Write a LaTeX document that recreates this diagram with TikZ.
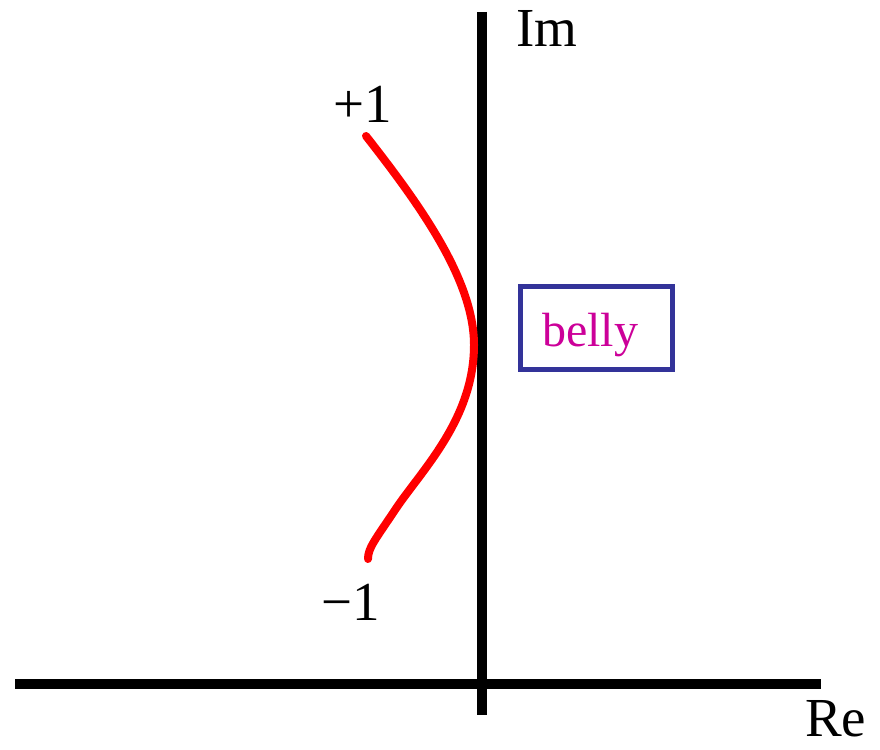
\documentclass[tikz,border=0pt]{standalone}
\usepackage{fontspec}
\setmainfont{Liberation Serif}
\definecolor{boxblue}{RGB}{51,51,153}
\definecolor{bellymag}{RGB}{204,0,153}
\definecolor{curvered}{RGB}{255,0,0}
\begin{document}
\begin{tikzpicture}[x=1pt,y=-1pt,
  axis/.style={line width=10pt,black},
  lbl/.style={inner sep=0pt,anchor=base west,font=\fontsize{55}{60}\selectfont},
  bellybox/.style={draw=boxblue,line width=5pt,minimum width=152pt,minimum height=83pt,inner sep=0pt},
  curve/.style={line width=8pt,curvered,line cap=round}]
\useasboundingbox (0,0) rectangle (880,749);
\fill[white] (0,0) rectangle (880,749);
% axes
\coordinate (vtop) at (482,12);
\coordinate (vbot) at (482,715);
\coordinate (hleft) at (15,684);
\coordinate (hright) at (821,684);
\draw[axis] (vtop) -- (vbot);
\draw[axis] (hleft) -- (hright);
% labels
\node[lbl] (im) at (516,47) {Im};
\node[lbl] (re) at (805,736) {Re};
\node[lbl] (plus) at (333,123) {+1};
\node[lbl] (minus) at (321,620) {−1};
% curve
\coordinate (cstart) at (366,136);
\coordinate (cmid) at (474,345);
\coordinate (cend) at (368,559);
\draw[curve] (cstart) .. controls (420,205) and (474,280) .. (cmid)
  .. controls (474,420) and (420,472) .. (395,510)
  .. controls (375,540) and (368,548) .. (cend);
% belly box
\node[bellybox] (belly) at (596.5,328) {};
\node[inner sep=0pt,anchor=base west,text=bellymag,font=\fontsize{48}{52}\selectfont] (bellytxt) at (542,346) {belly};
\end{tikzpicture}
\end{document}
